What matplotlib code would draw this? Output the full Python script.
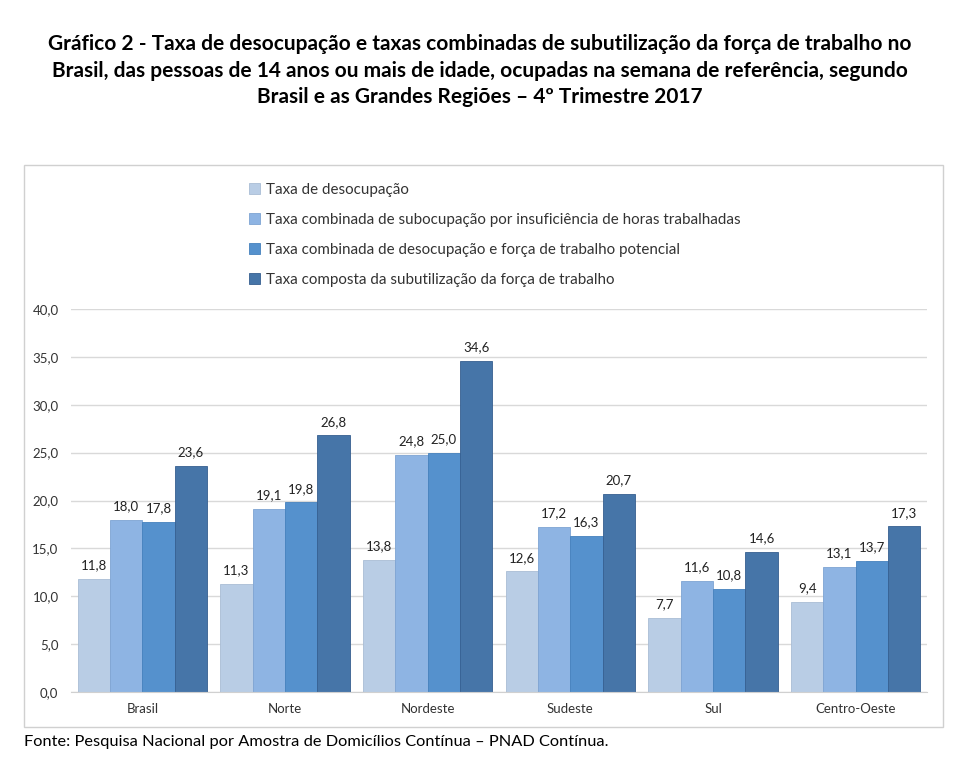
import matplotlib.pyplot as plt
import numpy as np
from matplotlib.patches import Rectangle

plt.rcParams['font.family'] = ['Lato', 'DejaVu Sans']

regioes = ["Brasil", "Norte", "Nordeste", "Sudeste", "Sul", "Centro-Oeste"]
series = [
    "Taxa de desocupação",
    "Taxa combinada de subocupação por insuficiência de horas trabalhadas",
    "Taxa combinada de desocupação e força de trabalho potencial",
    "Taxa composta da subutilização da força de trabalho",
]
desocupacao = [11.8, 11.3, 13.8, 12.6, 7.7, 9.4]
subocupacao = [18.0, 19.1, 24.8, 17.2, 11.6, 13.1]
desoc_potencial = [17.8, 19.8, 25.0, 16.3, 10.8, 13.7]
composta = [23.6, 26.8, 34.6, 20.7, 14.6, 17.3]
yticks = [0, 5, 10, 15, 20, 25, 30, 35, 40]

cores = ["#B9CDE5", "#8EB4E3", "#5591CD", "#4675A8"]
bordas = ["#A9BDD5", "#7EA4D3", "#4581BD", "#365F90"]

fig = plt.figure(figsize=(9.6, 7.78), dpi=100)

# moldura do grafico
fig.patches.append(Rectangle((24 / 960, 1 - 727 / 778), (943 - 24) / 960, (727 - 165) / 778,
                             transform=fig.transFigure, fill=False, edgecolor="#D0D0D0", lw=1))

ax = fig.add_axes([71 / 960, 1 - 692 / 778, (927 - 71) / 960, (692 - 309) / 778])

x = np.arange(len(regioes))
w = 0.227
valores = [desocupacao, subocupacao, desoc_potencial, composta]
handles = []
for i, vals in enumerate(valores):
    b = ax.bar(x + (i - 1.5) * w, vals, w, color=cores[i], edgecolor=bordas[i], lw=0.6,
               label=series[i], zorder=2)
    handles.append(b)
    for xi, v in zip(x + (i - 1.5) * w, vals):
        ax.text(xi, v + 0.8, f"{v:.1f}".replace(".", ","), ha="center", va="bottom",
                fontsize=9.5, color="#222222")

ax.set_ylim(0, 40)
ax.set_xlim(-0.5, len(regioes) - 0.5)
ax.set_yticks(yticks)
ax.set_yticklabels([f"{t:.1f}".replace(".", ",") for t in yticks], fontsize=9.5, color="#333333")
ax.set_xticks(x)
ax.set_xticklabels(regioes, fontsize=9.5, color="#333333")
ax.tick_params(axis="both", length=0, pad=8)
ax.tick_params(axis="y", pad=9)
ax.grid(axis="y", color="#D9D9D9", lw=1, zorder=0)
for s in ["top", "right", "left"]:
    ax.spines[s].set_visible(False)
ax.spines["bottom"].set_color("#D0D0D0")

fig.legend(handles=handles, loc="upper left", bbox_to_anchor=(243 / 960, 1 - 177 / 778),
           frameon=False, fontsize=10.9, handlelength=0.7, handleheight=0.7,
           handletextpad=0.4, labelspacing=1.05, borderaxespad=0, labelcolor="#333333")

fig.text(0.5, 1 - 34 / 778,
         "Gráfico 2 - Taxa de desocupação e taxas combinadas de subutilização da força de trabalho no\n"
         "Brasil, das pessoas de 14 anos ou mais de idade, ocupadas na semana de referência, segundo\n"
         "Brasil e as Grandes Regiões – 4º Trimestre 2017",
         ha="center", va="top", fontsize=15, fontweight="bold", linespacing=1.42)

fig.text(24 / 960, 1 - 742 / 778, "Fonte: Pesquisa Nacional por Amostra de Domicílios Contínua – PNAD Contínua.",
         ha="left", va="center", fontsize=11.8)

fig.savefig("out.png", dpi=100)
